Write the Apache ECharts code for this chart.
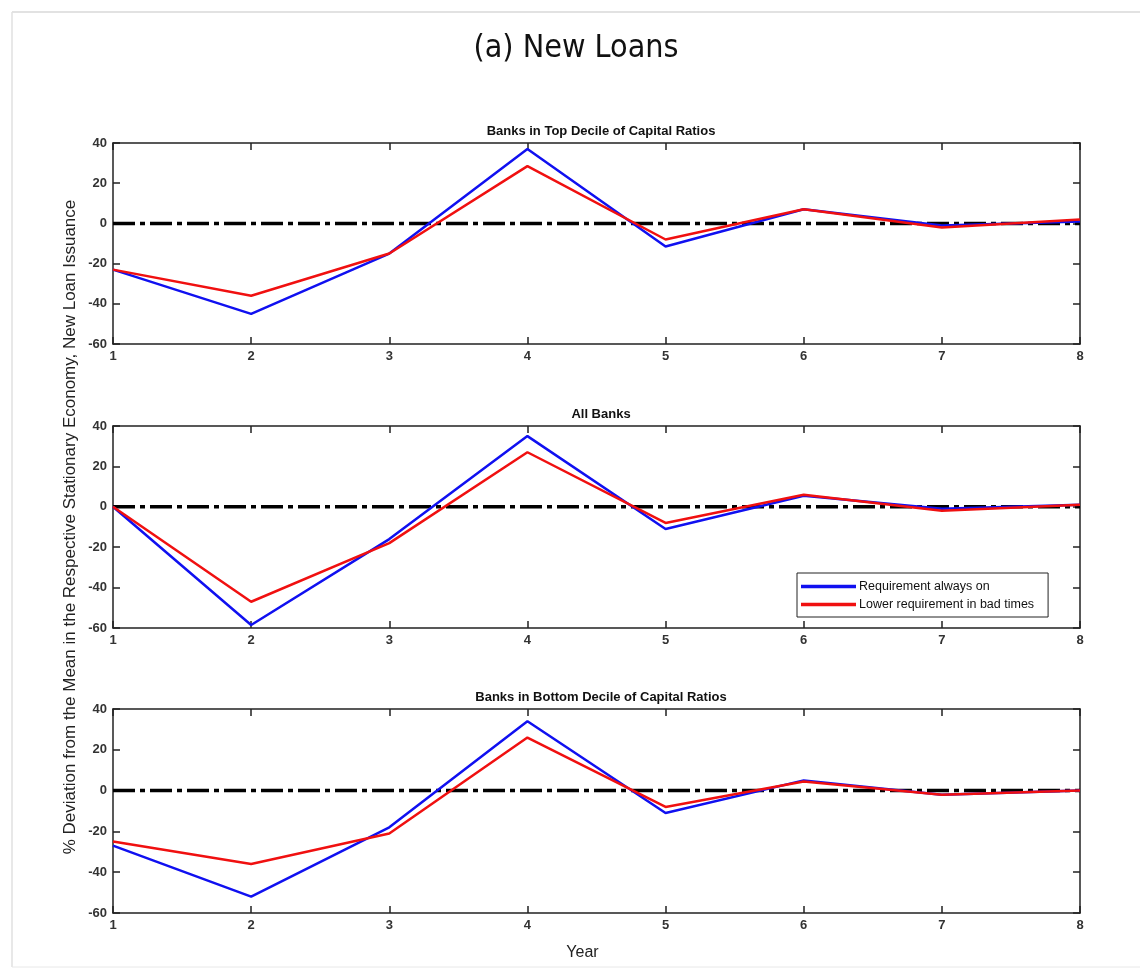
<!DOCTYPE html>
<html>
<head>
<meta charset="utf-8">
<script src="https://cdn.jsdelivr.net/npm/echarts@6/dist/echarts.min.js"></script>
<style>
html,body{margin:0;padding:0;background:#fff;}
#chart{width:1140px;height:969px;}
</style>
</head>
<body>
<div id="chart"></div>
<script>
const years = [1, 2, 3, 4, 5, 6, 7, 8];
const yTicks = [-60, -40, -20, 0, 20, 40];
const panelTitles = ['Banks in Top Decile of Capital Ratios', 'All Banks', 'Banks in Bottom Decile of Capital Ratios'];
const seriesNames = ['Requirement always on', 'Lower requirement in bad times'];

const topAlwaysOn   = [-23, -45, -15, 37, -11.5, 7, -1, 1];
const topLowerBad   = [-23, -36, -15, 28.5, -8, 7, -2, 2];
const allAlwaysOn   = [0, -58.5, -16, 35, -11, 5.5, -1, 1];
const allLowerBad   = [0, -47, -18, 27, -8, 6, -2, 1];
const botAlwaysOn   = [-27, -52, -18, 34, -11, 5, -2, 0];
const botLowerBad   = [-25, -36, -21, 26, -8, 4.5, -2, 0];
const zeroLine      = [0, 0, 0, 0, 0, 0, 0, 0];

const panels = [
  { title: panelTitles[0], a: topAlwaysOn, b: topLowerBad },
  { title: panelTitles[1], a: allAlwaysOn, b: allLowerBad },
  { title: panelTitles[2], a: botAlwaysOn, b: botLowerBad }
];

const gridTops = [143, 426, 709];
const gridHeights = [201, 202, 204];
const FONT = '"Liberation Sans", Arial, sans-serif';

const chart = echarts.init(document.getElementById('chart'), null, { renderer: 'canvas' });

const grids = [], xAxes = [], yAxes = [], series = [], titles = [];
titles.push({
  text: '(a) New Loans', left: 571, top: 28, textAlign: 'center',
  textStyle: { fontFamily: '"DejaVu Sans Condensed", "Liberation Sans Narrow", "DejaVu Sans", sans-serif', fontSize: 32, fontWeight: 'normal', color: '#111' }
});

panels.forEach((p, i) => {
  grids.push({ left: 113, right: 60, top: gridTops[i], height: gridHeights[i], containLabel: false });
  titles.push({
    text: p.title, left: 596, top: gridTops[i] - 23, textAlign: 'center',
    textStyle: { fontFamily: FONT, fontSize: 13, fontWeight: 'bold', color: '#111' }
  });
  const axisLine = { show: true, onZero: false, lineStyle: { color: '#222', width: 1.5 } };
  const tickIn = { show: true, inside: true, length: 7, lineStyle: { color: '#222', width: 1.5 } };
  xAxes.push({
    type: 'value', gridIndex: i, min: 1, max: 8, interval: 1, position: 'bottom',
    axisLine, axisTick: tickIn, splitLine: { show: false },
    axisLabel: { show: true, margin: 6, fontFamily: FONT, fontSize: 13, fontWeight: 'bold', color: '#333',
      formatter: v => String(years[v - 1]) },
    name: i === 2 ? 'Year' : '', nameLocation: 'middle', nameGap: 32,
    nameTextStyle: { fontFamily: FONT, fontSize: 16, color: '#222', padding: [0, 28, 0, 0] }
  });
  xAxes.push({
    type: 'value', gridIndex: i, min: 1, max: 8, interval: 1, position: 'top',
    axisLine, axisTick: tickIn, axisLabel: { show: false }, splitLine: { show: false }
  });
  yAxes.push({
    type: 'value', gridIndex: i, min: yTicks[0], max: yTicks[yTicks.length - 1], interval: 20, position: 'left',
    axisLine, axisTick: tickIn, splitLine: { show: false },
    axisLabel: { show: true, margin: 6, fontFamily: FONT, fontSize: 13, fontWeight: 'bold', color: '#333' },
    name: i === 1 ? '% Deviation from the Mean in the Respective Stationary Economy, New Loan Issuance' : '',
    nameLocation: 'middle', nameRotate: 90, nameGap: 34, nameMoveOverlap: false,
    nameTextStyle: { fontFamily: FONT, fontSize: 17, color: '#222' }
  });
  yAxes.push({
    type: 'value', gridIndex: i, min: yTicks[0], max: yTicks[yTicks.length - 1], interval: 20, position: 'right',
    axisLine, axisTick: tickIn, axisLabel: { show: false }, splitLine: { show: false }
  });
  const xi = i * 2, yi = i * 2;
  series.push({
    name: 'zero', type: 'line', xAxisIndex: xi, yAxisIndex: yi, symbol: 'none', silent: true, z: 1,
    data: years.map((x, k) => [x, zeroLine[k]]),
    lineStyle: { color: '#000', width: 3.5, type: [22, 5, 5, 5] }
  });
  series.push({
    name: seriesNames[0], type: 'line', xAxisIndex: xi, yAxisIndex: yi, symbol: 'none', z: 3,
    data: years.map((x, k) => [x, p.a[k]]),
    lineStyle: { color: '#1010f0', width: 2.5 }, itemStyle: { color: '#1010f0' }
  });
  series.push({
    name: seriesNames[1], type: 'line', xAxisIndex: xi, yAxisIndex: yi, symbol: 'none', z: 4,
    data: years.map((x, k) => [x, p.b[k]]),
    lineStyle: { color: '#f01010', width: 2.5 }, itemStyle: { color: '#f01010' }
  });
});

chart.setOption({
  animation: false,
  backgroundColor: '#fff',
  title: titles,
  grid: grids,
  xAxis: xAxes,
  yAxis: yAxes,
  legend: {
    data: seriesNames, orient: 'vertical', left: 797, top: 573,
    itemWidth: 55, itemHeight: 3.5, itemGap: 5, icon: 'rect',
    padding: [7, 14, 6, 4], borderColor: '#222', borderWidth: 1, backgroundColor: '#fff',
    textStyle: { fontFamily: FONT, fontSize: 12.5, color: '#111', padding: [0, 0, 0, -2] }
  },
  graphic: [
    { type: 'line', shape: { x1: 12, y1: 12, x2: 1140, y2: 12 }, style: { stroke: '#d8d8d8', lineWidth: 1.5 }, silent: true },
    { type: 'line', shape: { x1: 12, y1: 12, x2: 12, y2: 967 }, style: { stroke: '#e0e0e0', lineWidth: 1.5 }, silent: true },
    { type: 'line', shape: { x1: 12, y1: 967, x2: 1140, y2: 967 }, style: { stroke: '#e8e8e8', lineWidth: 1 }, silent: true }
  ],
  series: series
});
</script>
</body>
</html>
